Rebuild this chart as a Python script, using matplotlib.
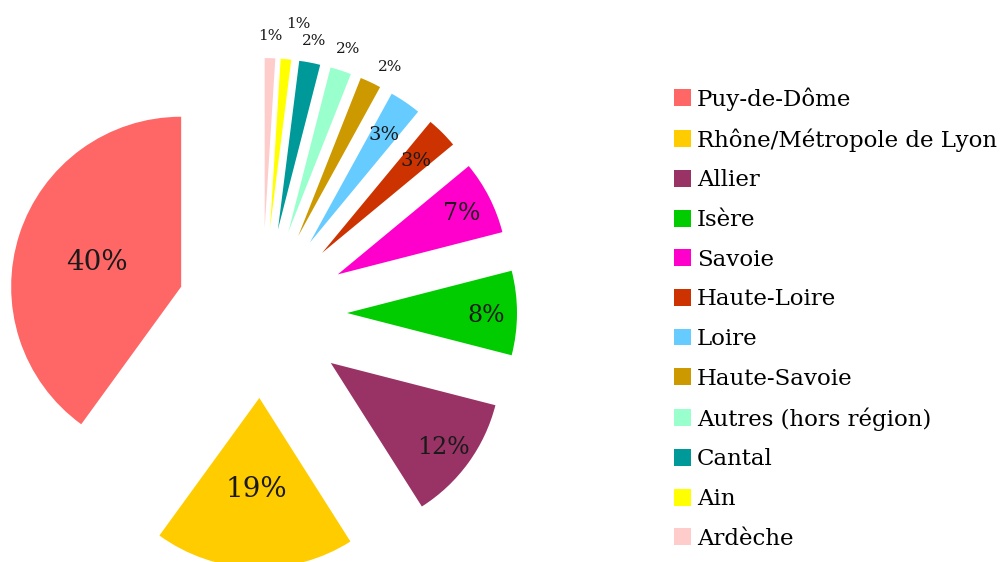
import numpy as np
from matplotlib import pyplot as plt

labels = ['Puy-de-Dôme', 'Rhône/Métropole de Lyon', 'Allier', 'Isère', 'Savoie',
          'Haute-Loire', 'Loire', 'Haute-Savoie', 'Autres (hors région)',
          'Cantal', 'Ain', 'Ardèche']
shares = [40, 19, 12, 8, 7, 3, 3, 2, 2, 2, 1, 1]
colors = ['#FF6666', '#FFCC00', '#993366', '#00CC00', '#FF00CC', '#CC3300',
          '#66CCFF', '#CC9900', '#99FFCC', '#009999', '#FFFF00', '#FFCCCC']

fig = plt.figure(figsize=(10.05, 5.62), dpi=100)
ax = fig.add_axes([0, 0, 1, 1])

cx, cy, r = 262, 249, 170
# explode is in data units here (pixels), about half the radius
wedges, _ = ax.pie(shares, colors=colors, startangle=90, counterclock=True,
                   radius=r, center=(cx, cy), explode=[0.5 * r] * len(shares),
                   wedgeprops=dict(linewidth=0))

# percentage labels, placed like the original "best fit" layout
for i, (w, v) in enumerate(zip(wedges, shares)):
    ang = np.deg2rad((w.theta1 + w.theta2) / 2)
    x0, y0 = w.center
    if v >= 15:
        d, fs = 0.52, 20
    elif v >= 7:
        d, fs = 0.82, 17
    elif v >= 3:
        d, fs = 0.78, 14
    else:
        d, fs = 1.14, 11
        if i == 10:
            d, ang = 1.22, ang - np.deg2rad(2.5)
        if i == 7:
            ang = ang - np.deg2rad(3)
    ax.text(x0 + d * r * np.cos(ang), y0 + d * r * np.sin(ang), f'{v}%',
            ha='center', va='center_baseline', fontsize=fs, family='DejaVu Serif',
            color='#1a1a1a')

leg = ax.legend(wedges, labels, loc='upper left', bbox_to_anchor=(665 / 1005, 1 - 78 / 562),
                frameon=False, prop=dict(family='DejaVu Serif', size=16.5),
                handlelength=0.75, handleheight=0.75, handletextpad=0.25,
                labelspacing=0.77, borderaxespad=0)

ax.set_xlim(0, 1005)
ax.set_ylim(0, 562)
ax.set_aspect('equal')
ax.axis('off')

fig.savefig('out.png', dpi=100)
